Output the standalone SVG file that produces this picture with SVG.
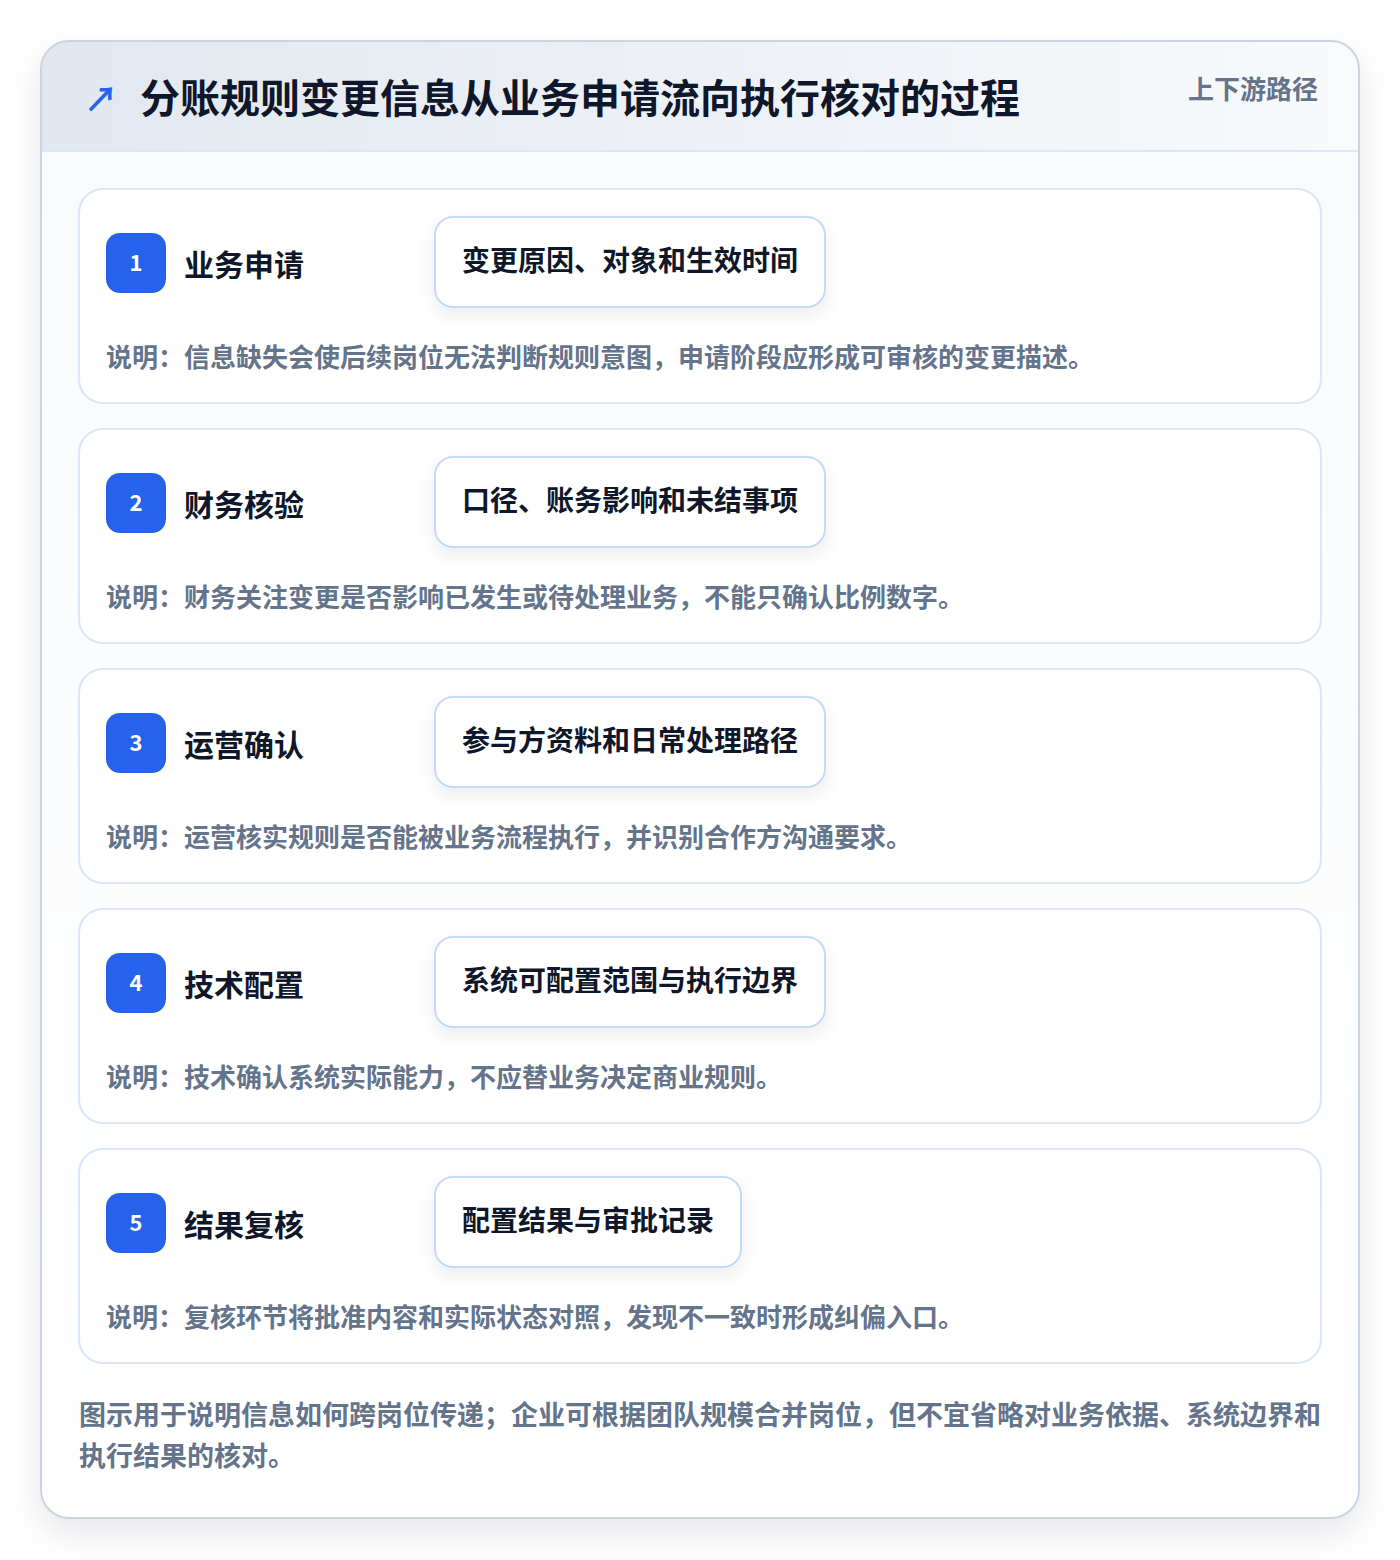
<svg xmlns="http://www.w3.org/2000/svg" width="1400" height="1560" viewBox="0 0 1400 1560">
<defs>
<linearGradient id="hdr" x1="0" y1="0" x2="1" y2="0"><stop offset="0" stop-color="#e2e8f0"/><stop offset="1" stop-color="#f8fafc"/></linearGradient>
<linearGradient id="body" x1="0" y1="0" x2="0" y2="1"><stop offset="0" stop-color="#f8fafc"/><stop offset="1" stop-color="#ffffff"/></linearGradient>
<filter id="sh" x="-10%" y="-10%" width="120%" height="120%"><feDropShadow dx="0" dy="14" stdDeviation="18" flood-color="#0f172a" flood-opacity="0.10"/></filter>
<filter id="psh" x="-20%" y="-30%" width="140%" height="170%"><feDropShadow dx="0" dy="8" stdDeviation="9" flood-color="#0f172a" flood-opacity="0.07"/></filter>
<clipPath id="oc"><rect x="41" y="41" width="1318" height="1477" rx="28"/></clipPath>
</defs>
<style>
text{font-family:"Noto Sans CJK SC",sans-serif;font-weight:700}
.card{fill:#ffffff;stroke:#dbe7f7;stroke-width:2}
.badge{fill:#2563eb}
.num{fill:#ffffff;font-size:22px;text-anchor:middle}
.st{fill:#0f172a;font-size:30px}
.pill{fill:#ffffff;stroke:#bfdbfe;stroke-width:2}
.pt{fill:#0f172a;font-size:28px}
.desc{fill:#64748b;font-size:26px}
.foot{fill:#64748b;font-size:27px}
</style>
<rect width="1400" height="1560" fill="#ffffff"/>
<g id="frame">
<rect x="41" y="41" width="1318" height="1477" rx="28" fill="#ffffff" filter="url(#sh)"/>
<g clip-path="url(#oc)">
<rect x="41" y="41" width="1318" height="1477" fill="url(#body)"/>
<rect x="41" y="41" width="1318" height="110" fill="url(#hdr)"/>
<line x1="41" y1="151" x2="1359" y2="151" stroke="#dbe7f7" stroke-width="2"/>
</g>
<rect x="41" y="41" width="1318" height="1477" rx="28" fill="none" stroke="#cbd5e1" stroke-width="2"/>
</g>
<g id="header">
<text x="84" y="112" font-size="34" fill="#2563eb">↗</text>
<text x="140" y="113" font-size="40" fill="#0f172a">分账规则变更信息从业务申请流向执行核对的过程</text>
<text x="1318" y="99" font-size="26" fill="#64748b" text-anchor="end">上下游路径</text>
</g>
<g id="connectors"></g>
<g id="step1">
<rect class="card" x="79" y="189" width="1242" height="214" rx="24"/>
<rect class="badge" x="106" y="233" width="60" height="60" rx="14"/>
<text class="num" x="136" y="271">1</text>
<text class="st" x="184" y="276">业务申请</text>
<rect class="pill" x="435" y="217" width="390" height="90" rx="18" filter="url(#psh)"/>
<text class="pt" x="462" y="271">变更原因、对象和生效时间</text>
<text class="desc" x="106" y="367">说明：信息缺失会使后续岗位无法判断规则意图，申请阶段应形成可审核的变更描述。</text>
</g>
<g id="step2">
<rect class="card" x="79" y="429" width="1242" height="214" rx="24"/>
<rect class="badge" x="106" y="473" width="60" height="60" rx="14"/>
<text class="num" x="136" y="511">2</text>
<text class="st" x="184" y="516">财务核验</text>
<rect class="pill" x="435" y="457" width="390" height="90" rx="18" filter="url(#psh)"/>
<text class="pt" x="462" y="511">口径、账务影响和未结事项</text>
<text class="desc" x="106" y="607">说明：财务关注变更是否影响已发生或待处理业务，不能只确认比例数字。</text>
</g>
<g id="step3">
<rect class="card" x="79" y="669" width="1242" height="214" rx="24"/>
<rect class="badge" x="106" y="713" width="60" height="60" rx="14"/>
<text class="num" x="136" y="751">3</text>
<text class="st" x="184" y="756">运营确认</text>
<rect class="pill" x="435" y="697" width="390" height="90" rx="18" filter="url(#psh)"/>
<text class="pt" x="462" y="751">参与方资料和日常处理路径</text>
<text class="desc" x="106" y="847">说明：运营核实规则是否能被业务流程执行，并识别合作方沟通要求。</text>
</g>
<g id="step4">
<rect class="card" x="79" y="909" width="1242" height="214" rx="24"/>
<rect class="badge" x="106" y="953" width="60" height="60" rx="14"/>
<text class="num" x="136" y="991">4</text>
<text class="st" x="184" y="996">技术配置</text>
<rect class="pill" x="435" y="937" width="390" height="90" rx="18" filter="url(#psh)"/>
<text class="pt" x="462" y="991">系统可配置范围与执行边界</text>
<text class="desc" x="106" y="1087">说明：技术确认系统实际能力，不应替业务决定商业规则。</text>
</g>
<g id="step5">
<rect class="card" x="79" y="1149" width="1242" height="214" rx="24"/>
<rect class="badge" x="106" y="1193" width="60" height="60" rx="14"/>
<text class="num" x="136" y="1231">5</text>
<text class="st" x="184" y="1236">结果复核</text>
<rect class="pill" x="435" y="1177" width="306" height="90" rx="18" filter="url(#psh)"/>
<text class="pt" x="462" y="1231">配置结果与审批记录</text>
<text class="desc" x="106" y="1327">说明：复核环节将批准内容和实际状态对照，发现不一致时形成纠偏入口。</text>
</g>
<g id="footnote">
<text class="foot" x="79" y="1425">图示用于说明信息如何跨岗位传递；企业可根据团队规模合并岗位，但不宜省略对业务依据、系统边界和</text>
<text class="foot" x="79" y="1466">执行结果的核对。</text>
</g>
</svg>
